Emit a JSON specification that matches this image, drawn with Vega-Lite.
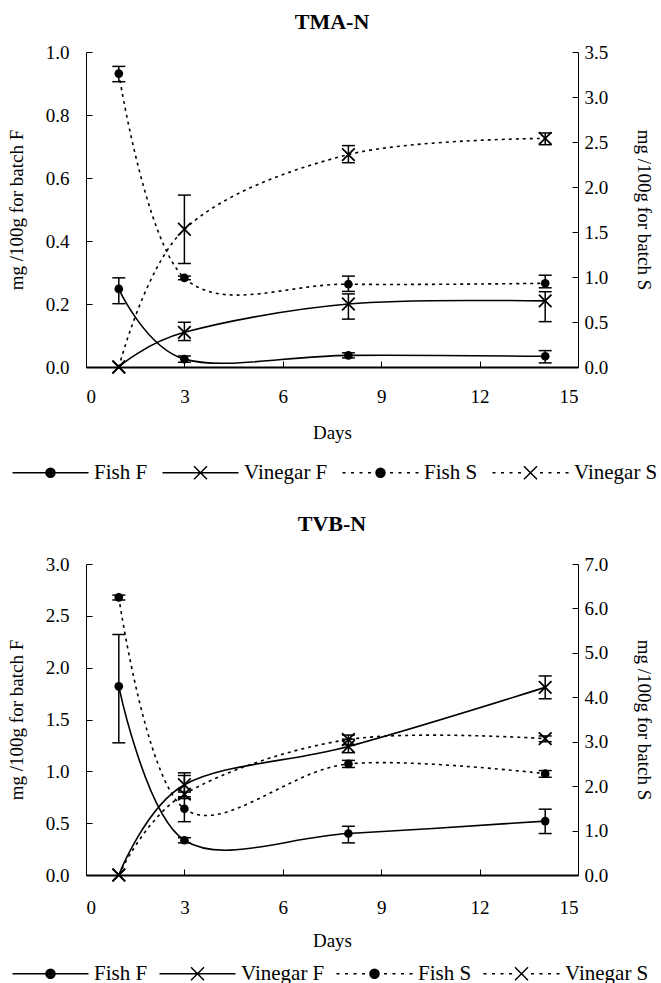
{
  "$schema": "https://vega.github.io/schema/vega-lite/v6.json",
  "background": "white",
  "padding": {"left": 7, "top": 11, "right": 0, "bottom": 0},
  "config": {
    "view": {"stroke": null},
    "font": "Liberation Serif",
    "axis": {
      "labelFont": "Liberation Serif", "labelFontSize": 19, "labelColor": "black",
      "titleFont": "Liberation Serif", "titleFontSize": 19, "titleFontWeight": "normal", "titleColor": "black",
      "domainColor": "black", "tickColor": "black", "grid": false, "tickSize": -6, "labelPadding": 23
    },
    "title": {"font": "Liberation Serif", "fontSize": 22, "fontWeight": "bold", "color": "black"},
    "legend": {
      "orient": "none", "direction": "horizontal", "columns": 4, "title": null, "padding": 0,
      "labelFont": "Liberation Serif", "labelFontSize": 21, "labelColor": "black",
      "symbolSize": 100, "symbolStrokeWidth": 1.5,
      "labelOffset": 33, "columnPadding": 11
    }
  },
  "datasets": {
    "tma": [
      {"series": "Fish F", "kind": "Fish", "batch": "F", "day": 1, "value": 0.248, "lo": 0.201, "hi": 0.283},
      {"series": "Fish F", "kind": "Fish", "batch": "F", "day": 3, "value": 0.025, "lo": 0.015, "hi": 0.035},
      {"series": "Fish F", "kind": "Fish", "batch": "F", "day": 8, "value": 0.037, "lo": 0.029, "hi": 0.045},
      {"series": "Fish F", "kind": "Fish", "batch": "F", "day": 14, "value": 0.034, "lo": 0.013, "hi": 0.052},
      {"series": "Vinegar F", "kind": "Vinegar", "batch": "F", "day": 1, "value": 0.0, "lo": null, "hi": null},
      {"series": "Vinegar F", "kind": "Vinegar", "batch": "F", "day": 3, "value": 0.11, "lo": 0.084, "hi": 0.142},
      {"series": "Vinegar F", "kind": "Vinegar", "batch": "F", "day": 8, "value": 0.2, "lo": 0.152, "hi": 0.232},
      {"series": "Vinegar F", "kind": "Vinegar", "batch": "F", "day": 14, "value": 0.21, "lo": 0.144, "hi": 0.239},
      {"series": "Fish S", "kind": "Fish", "batch": "S", "day": 1, "value": 3.26, "lo": 3.17, "hi": 3.34},
      {"series": "Fish S", "kind": "Fish", "batch": "S", "day": 3, "value": 0.99, "lo": 0.97, "hi": 1.01},
      {"series": "Fish S", "kind": "Fish", "batch": "S", "day": 8, "value": 0.92, "lo": 0.84, "hi": 1.01},
      {"series": "Fish S", "kind": "Fish", "batch": "S", "day": 14, "value": 0.93, "lo": 0.88, "hi": 1.02},
      {"series": "Vinegar S", "kind": "Vinegar", "batch": "S", "day": 1, "value": 0.0, "lo": null, "hi": null},
      {"series": "Vinegar S", "kind": "Vinegar", "batch": "S", "day": 3, "value": 1.53, "lo": 1.15, "hi": 1.91},
      {"series": "Vinegar S", "kind": "Vinegar", "batch": "S", "day": 8, "value": 2.36, "lo": 2.27, "hi": 2.46},
      {"series": "Vinegar S", "kind": "Vinegar", "batch": "S", "day": 14, "value": 2.54, "lo": 2.47, "hi": 2.6}
    ],
    "tvb": [
      {"series": "Fish F", "kind": "Fish", "batch": "F", "day": 1, "value": 1.82, "lo": 1.275, "hi": 2.32},
      {"series": "Fish F", "kind": "Fish", "batch": "F", "day": 3, "value": 0.335, "lo": 0.31, "hi": 0.36},
      {"series": "Fish F", "kind": "Fish", "batch": "F", "day": 8, "value": 0.4, "lo": 0.31, "hi": 0.47},
      {"series": "Fish F", "kind": "Fish", "batch": "F", "day": 14, "value": 0.52, "lo": 0.4, "hi": 0.635},
      {"series": "Vinegar F", "kind": "Vinegar", "batch": "F", "day": 1, "value": 0.0, "lo": null, "hi": null},
      {"series": "Vinegar F", "kind": "Vinegar", "batch": "F", "day": 3, "value": 0.87, "lo": 0.8, "hi": 0.96},
      {"series": "Vinegar F", "kind": "Vinegar", "batch": "F", "day": 8, "value": 1.24, "lo": 1.18, "hi": 1.31},
      {"series": "Vinegar F", "kind": "Vinegar", "batch": "F", "day": 14, "value": 1.81, "lo": 1.7, "hi": 1.92},
      {"series": "Fish S", "kind": "Fish", "batch": "S", "day": 1, "value": 6.25, "lo": 6.19, "hi": 6.3},
      {"series": "Fish S", "kind": "Fish", "batch": "S", "day": 3, "value": 1.49, "lo": 1.2, "hi": 1.76},
      {"series": "Fish S", "kind": "Fish", "batch": "S", "day": 8, "value": 2.5, "lo": 2.42, "hi": 2.58},
      {"series": "Fish S", "kind": "Fish", "batch": "S", "day": 14, "value": 2.28, "lo": 2.2, "hi": 2.35},
      {"series": "Vinegar S", "kind": "Vinegar", "batch": "S", "day": 1, "value": 0.0, "lo": null, "hi": null},
      {"series": "Vinegar S", "kind": "Vinegar", "batch": "S", "day": 3, "value": 1.82, "lo": 1.72, "hi": 2.3},
      {"series": "Vinegar S", "kind": "Vinegar", "batch": "S", "day": 8, "value": 3.05, "lo": 2.93, "hi": 3.15},
      {"series": "Vinegar S", "kind": "Vinegar", "batch": "S", "day": 14, "value": 3.07, "lo": 3.0, "hi": 3.13}
    ]
  },
  "vconcat": [
    {
      "title": {"text": "TMA-N", "offset": 9},
      "width": 492, "height": 315,
      "data": {"name": "tma"},
      "layer": [
        {
          "transform": [{"filter": "datum.batch == 'F'"}],
          "encoding": {"x": {"field": "day", "type": "quantitative", "scale": {"domain": [0, 15]}, "axis": {"values": [0, 3, 6, 9, 12, 15], "title": "Days", "titlePadding": 17, "labelPadding": 26, "domainWidth": 2, "labelFont": "Liberation Serif", "titleFont": "Liberation Serif"}}},
          "layer": [
            {"mark": {"type": "line", "interpolate": "cardinal", "color": "black", "strokeWidth": 1.6}, "encoding": {"y": {"field": "value", "type": "quantitative", "scale": {"domain": [0, 1]}, "axis": {"title": "mg /100g for batch F", "values": [0, 0.2, 0.4, 0.6, 0.8, 1.0], "format": ".1f", "titlePadding": 19, "labelFont": "Liberation Serif", "titleFont": "Liberation Serif"}}, "detail": {"field": "series"}}},
            {"mark": {"type": "rule", "color": "black", "strokeWidth": 1.5}, "encoding": {"y": {"field": "lo", "type": "quantitative", "scale": {"domain": [0, 1]}, "axis": {"title": "mg /100g for batch F", "values": [0, 0.2, 0.4, 0.6, 0.8, 1.0], "format": ".1f", "titlePadding": 19, "labelFont": "Liberation Serif", "titleFont": "Liberation Serif"}}, "y2": {"field": "hi"}}},
            {"mark": {"type": "tick", "orient": "horizontal", "size": 13, "thickness": 1.5, "color": "black", "opacity": 1}, "encoding": {"y": {"field": "lo", "type": "quantitative", "scale": {"domain": [0, 1]}, "axis": {"title": "mg /100g for batch F", "values": [0, 0.2, 0.4, 0.6, 0.8, 1.0], "format": ".1f", "titlePadding": 19, "labelFont": "Liberation Serif", "titleFont": "Liberation Serif"}}}},
            {"mark": {"type": "tick", "orient": "horizontal", "size": 13, "thickness": 1.5, "color": "black", "opacity": 1}, "encoding": {"y": {"field": "hi", "type": "quantitative", "scale": {"domain": [0, 1]}, "axis": {"title": "mg /100g for batch F", "values": [0, 0.2, 0.4, 0.6, 0.8, 1.0], "format": ".1f", "titlePadding": 19, "labelFont": "Liberation Serif", "titleFont": "Liberation Serif"}}}},
            {"transform": [{"filter": "datum.kind == 'Fish'"}], "mark": {"type": "point", "shape": "circle", "filled": true, "size": 75, "color": "black", "opacity": 1}, "encoding": {"y": {"field": "value", "type": "quantitative", "scale": {"domain": [0, 1]}, "axis": {"title": "mg /100g for batch F", "values": [0, 0.2, 0.4, 0.6, 0.8, 1.0], "format": ".1f", "titlePadding": 19, "labelFont": "Liberation Serif", "titleFont": "Liberation Serif"}}}},
            {"transform": [{"filter": "datum.kind == 'Vinegar'"}], "mark": {"type": "point", "shape": "M-1,-1L1,1M-1,1L1,-1", "filled": false, "size": 160, "color": "black", "strokeWidth": 1.8, "opacity": 1}, "encoding": {"y": {"field": "value", "type": "quantitative", "scale": {"domain": [0, 1]}, "axis": {"title": "mg /100g for batch F", "values": [0, 0.2, 0.4, 0.6, 0.8, 1.0], "format": ".1f", "titlePadding": 19, "labelFont": "Liberation Serif", "titleFont": "Liberation Serif"}}}},
            {"mark": {"type": "point", "filled": false, "color": "black", "strokeWidth": 1.5, "opacity": 0}, "encoding": {
              "y": {"field": "value", "type": "quantitative", "scale": {"domain": [0, 1]}, "axis": {"title": "mg /100g for batch F", "values": [0, 0.2, 0.4, 0.6, 0.8, 1.0], "format": ".1f", "titlePadding": 19, "labelFont": "Liberation Serif", "titleFont": "Liberation Serif"}},
              "shape": {"field": "series", "type": "nominal",
                "scale": {"domain": ["Fish F", "Vinegar F", "Fish S", "Vinegar S"], "range": [
                  "M-7.6,0H7.6M-0.9,0A0.9,0.9,0,1,0,0.9,0A0.9,0.9,0,1,0,-0.9,0M-0.6,0A0.6,0.6,0,1,0,0.6,0A0.6,0.6,0,1,0,-0.6,0M-0.3,0A0.3,0.3,0,1,0,0.3,0A0.3,0.3,0,1,0,-0.3,0M-0.12,0A0.12,0.12,0,1,0,0.12,0A0.12,0.12,0,1,0,-0.12,0",
                  "M-7.6,0H7.6M-1.3,-1.3L1.3,1.3M-1.3,1.3L1.3,-1.3",
                  "M-7.6,0H-7.0M-5.9,0H-5.3M-4.2,0H-3.6M-2.5,0H-1.9M1.9,0H2.5M3.6,0H4.2M5.3,0H5.9M7.0,0H7.6M-0.9,0A0.9,0.9,0,1,0,0.9,0A0.9,0.9,0,1,0,-0.9,0M-0.6,0A0.6,0.6,0,1,0,0.6,0A0.6,0.6,0,1,0,-0.6,0M-0.3,0A0.3,0.3,0,1,0,0.3,0A0.3,0.3,0,1,0,-0.3,0M-0.12,0A0.12,0.12,0,1,0,0.12,0A0.12,0.12,0,1,0,-0.12,0",
                  "M-7.6,0H-7.0M-5.9,0H-5.3M-4.2,0H-3.6M-2.5,0H-1.9M1.9,0H2.5M3.6,0H4.2M5.3,0H5.9M7.0,0H7.6M-1.3,-1.3L1.3,1.3M-1.3,1.3L1.3,-1.3"
                ]},
                "legend": {"legendX": -46, "legendY": 410, "labelFont": "Liberation Serif"}
              }
            }}
          ]
        },
        {
          "transform": [{"filter": "datum.batch == 'S'"}],
          "encoding": {"x": {"field": "day", "type": "quantitative", "scale": {"domain": [0, 15]}, "axis": {"values": [0, 3, 6, 9, 12, 15], "title": "Days", "titlePadding": 17, "labelPadding": 26, "domainWidth": 2, "labelFont": "Liberation Serif", "titleFont": "Liberation Serif"}}},
          "layer": [
            {"mark": {"type": "line", "interpolate": "cardinal", "color": "black", "strokeWidth": 1.6, "strokeDash": [3, 4]}, "encoding": {"y": {"field": "value", "type": "quantitative", "scale": {"domain": [0, 3.5]}, "axis": {"orient": "right", "title": "mg /100g for batch S", "values": [0, 0.5, 1, 1.5, 2, 2.5, 3, 3.5], "format": ".1f", "labelPadding": 12, "titlePadding": 26, "labelFont": "Liberation Serif", "titleFont": "Liberation Serif"}}, "detail": {"field": "series"}}},
            {"mark": {"type": "rule", "color": "black", "strokeWidth": 1.5}, "encoding": {"y": {"field": "lo", "type": "quantitative", "scale": {"domain": [0, 3.5]}, "axis": {"orient": "right", "title": "mg /100g for batch S", "values": [0, 0.5, 1, 1.5, 2, 2.5, 3, 3.5], "format": ".1f", "labelPadding": 12, "titlePadding": 26, "labelFont": "Liberation Serif", "titleFont": "Liberation Serif"}}, "y2": {"field": "hi"}}},
            {"mark": {"type": "tick", "orient": "horizontal", "size": 13, "thickness": 1.5, "color": "black", "opacity": 1}, "encoding": {"y": {"field": "lo", "type": "quantitative", "scale": {"domain": [0, 3.5]}, "axis": {"orient": "right", "title": "mg /100g for batch S", "values": [0, 0.5, 1, 1.5, 2, 2.5, 3, 3.5], "format": ".1f", "labelPadding": 12, "titlePadding": 26, "labelFont": "Liberation Serif", "titleFont": "Liberation Serif"}}}},
            {"mark": {"type": "tick", "orient": "horizontal", "size": 13, "thickness": 1.5, "color": "black", "opacity": 1}, "encoding": {"y": {"field": "hi", "type": "quantitative", "scale": {"domain": [0, 3.5]}, "axis": {"orient": "right", "title": "mg /100g for batch S", "values": [0, 0.5, 1, 1.5, 2, 2.5, 3, 3.5], "format": ".1f", "labelPadding": 12, "titlePadding": 26, "labelFont": "Liberation Serif", "titleFont": "Liberation Serif"}}}},
            {"transform": [{"filter": "datum.kind == 'Fish'"}], "mark": {"type": "point", "shape": "circle", "filled": true, "size": 75, "color": "black", "opacity": 1}, "encoding": {"y": {"field": "value", "type": "quantitative", "scale": {"domain": [0, 3.5]}, "axis": {"orient": "right", "title": "mg /100g for batch S", "values": [0, 0.5, 1, 1.5, 2, 2.5, 3, 3.5], "format": ".1f", "labelPadding": 12, "titlePadding": 26, "labelFont": "Liberation Serif", "titleFont": "Liberation Serif"}}}},
            {"transform": [{"filter": "datum.kind == 'Vinegar'"}], "mark": {"type": "point", "shape": "M-1,-1L1,1M-1,1L1,-1", "filled": false, "size": 160, "color": "black", "strokeWidth": 1.8, "opacity": 1}, "encoding": {"y": {"field": "value", "type": "quantitative", "scale": {"domain": [0, 3.5]}, "axis": {"orient": "right", "title": "mg /100g for batch S", "values": [0, 0.5, 1, 1.5, 2, 2.5, 3, 3.5], "format": ".1f", "labelPadding": 12, "titlePadding": 26, "labelFont": "Liberation Serif", "titleFont": "Liberation Serif"}}}}
          ]
        }
      ],
      "resolve": {"scale": {"y": "independent"}}
    },
    {
      "title": {"text": "TVB-N", "offset": 19},
      "width": 492, "height": 311,
      "data": {"name": "tvb"},
      "layer": [
        {
          "transform": [{"filter": "datum.batch == 'F'"}],
          "encoding": {"x": {"field": "day", "type": "quantitative", "scale": {"domain": [0, 15]}, "axis": {"values": [0, 3, 6, 9, 12, 15], "title": "Days", "titlePadding": 14, "labelPadding": 29, "domainWidth": 2, "labelFont": "Liberation Serif", "titleFont": "Liberation Serif"}}},
          "layer": [
            {"mark": {"type": "line", "interpolate": "cardinal", "color": "black", "strokeWidth": 1.6}, "encoding": {"y": {"field": "value", "type": "quantitative", "scale": {"domain": [0, 3]}, "axis": {"title": "mg /100g for batch F", "values": [0, 0.5, 1, 1.5, 2, 2.5, 3], "format": ".1f", "titlePadding": 19, "labelFont": "Liberation Serif", "titleFont": "Liberation Serif"}}, "detail": {"field": "series"}}},
            {"mark": {"type": "rule", "color": "black", "strokeWidth": 1.5}, "encoding": {"y": {"field": "lo", "type": "quantitative", "scale": {"domain": [0, 3]}, "axis": {"title": "mg /100g for batch F", "values": [0, 0.5, 1, 1.5, 2, 2.5, 3], "format": ".1f", "titlePadding": 19, "labelFont": "Liberation Serif", "titleFont": "Liberation Serif"}}, "y2": {"field": "hi"}}},
            {"mark": {"type": "tick", "orient": "horizontal", "size": 13, "thickness": 1.5, "color": "black", "opacity": 1}, "encoding": {"y": {"field": "lo", "type": "quantitative", "scale": {"domain": [0, 3]}, "axis": {"title": "mg /100g for batch F", "values": [0, 0.5, 1, 1.5, 2, 2.5, 3], "format": ".1f", "titlePadding": 19, "labelFont": "Liberation Serif", "titleFont": "Liberation Serif"}}}},
            {"mark": {"type": "tick", "orient": "horizontal", "size": 13, "thickness": 1.5, "color": "black", "opacity": 1}, "encoding": {"y": {"field": "hi", "type": "quantitative", "scale": {"domain": [0, 3]}, "axis": {"title": "mg /100g for batch F", "values": [0, 0.5, 1, 1.5, 2, 2.5, 3], "format": ".1f", "titlePadding": 19, "labelFont": "Liberation Serif", "titleFont": "Liberation Serif"}}}},
            {"transform": [{"filter": "datum.kind == 'Fish'"}], "mark": {"type": "point", "shape": "circle", "filled": true, "size": 75, "color": "black", "opacity": 1}, "encoding": {"y": {"field": "value", "type": "quantitative", "scale": {"domain": [0, 3]}, "axis": {"title": "mg /100g for batch F", "values": [0, 0.5, 1, 1.5, 2, 2.5, 3], "format": ".1f", "titlePadding": 19, "labelFont": "Liberation Serif", "titleFont": "Liberation Serif"}}}},
            {"transform": [{"filter": "datum.kind == 'Vinegar'"}], "mark": {"type": "point", "shape": "M-1,-1L1,1M-1,1L1,-1", "filled": false, "size": 160, "color": "black", "strokeWidth": 1.8, "opacity": 1}, "encoding": {"y": {"field": "value", "type": "quantitative", "scale": {"domain": [0, 3]}, "axis": {"title": "mg /100g for batch F", "values": [0, 0.5, 1, 1.5, 2, 2.5, 3], "format": ".1f", "titlePadding": 19, "labelFont": "Liberation Serif", "titleFont": "Liberation Serif"}}}},
            {"mark": {"type": "point", "filled": false, "color": "black", "strokeWidth": 1.5, "opacity": 0}, "encoding": {
              "y": {"field": "value", "type": "quantitative", "scale": {"domain": [0, 3]}, "axis": {"title": "mg /100g for batch F", "values": [0, 0.5, 1, 1.5, 2, 2.5, 3], "format": ".1f", "titlePadding": 19, "labelFont": "Liberation Serif", "titleFont": "Liberation Serif"}},
              "shape": {"field": "series", "type": "nominal",
                "scale": {"domain": ["Fish F", "Vinegar F", "Fish S", "Vinegar S"], "range": [
                  "M-7.6,0H7.6M-0.9,0A0.9,0.9,0,1,0,0.9,0A0.9,0.9,0,1,0,-0.9,0M-0.6,0A0.6,0.6,0,1,0,0.6,0A0.6,0.6,0,1,0,-0.6,0M-0.3,0A0.3,0.3,0,1,0,0.3,0A0.3,0.3,0,1,0,-0.3,0M-0.12,0A0.12,0.12,0,1,0,0.12,0A0.12,0.12,0,1,0,-0.12,0",
                  "M-7.6,0H7.6M-1.3,-1.3L1.3,1.3M-1.3,1.3L1.3,-1.3",
                  "M-7.6,0H-7.0M-5.9,0H-5.3M-4.2,0H-3.6M-2.5,0H-1.9M1.9,0H2.5M3.6,0H4.2M5.3,0H5.9M7.0,0H7.6M-0.9,0A0.9,0.9,0,1,0,0.9,0A0.9,0.9,0,1,0,-0.9,0M-0.6,0A0.6,0.6,0,1,0,0.6,0A0.6,0.6,0,1,0,-0.6,0M-0.3,0A0.3,0.3,0,1,0,0.3,0A0.3,0.3,0,1,0,-0.3,0M-0.12,0A0.12,0.12,0,1,0,0.12,0A0.12,0.12,0,1,0,-0.12,0",
                  "M-7.6,0H-7.0M-5.9,0H-5.3M-4.2,0H-3.6M-2.5,0H-1.9M1.9,0H2.5M3.6,0H4.2M5.3,0H5.9M7.0,0H7.6M-1.3,-1.3L1.3,1.3M-1.3,1.3L1.3,-1.3"
                ]},
                "legend": {"legendX": -46, "legendY": 399, "columnPadding": 8, "labelFont": "Liberation Serif"}
              }
            }}
          ]
        },
        {
          "transform": [{"filter": "datum.batch == 'S'"}],
          "encoding": {"x": {"field": "day", "type": "quantitative", "scale": {"domain": [0, 15]}, "axis": {"values": [0, 3, 6, 9, 12, 15], "title": "Days", "titlePadding": 14, "labelPadding": 29, "domainWidth": 2, "labelFont": "Liberation Serif", "titleFont": "Liberation Serif"}}},
          "layer": [
            {"mark": {"type": "line", "interpolate": "cardinal", "color": "black", "strokeWidth": 1.6, "strokeDash": [3, 4]}, "encoding": {"y": {"field": "value", "type": "quantitative", "scale": {"domain": [0, 7]}, "axis": {"orient": "right", "title": "mg /100g for batch S", "values": [0, 1, 2, 3, 4, 5, 6, 7], "format": ".1f", "labelPadding": 12, "titlePadding": 26, "labelFont": "Liberation Serif", "titleFont": "Liberation Serif"}}, "detail": {"field": "series"}}},
            {"mark": {"type": "rule", "color": "black", "strokeWidth": 1.5}, "encoding": {"y": {"field": "lo", "type": "quantitative", "scale": {"domain": [0, 7]}, "axis": {"orient": "right", "title": "mg /100g for batch S", "values": [0, 1, 2, 3, 4, 5, 6, 7], "format": ".1f", "labelPadding": 12, "titlePadding": 26, "labelFont": "Liberation Serif", "titleFont": "Liberation Serif"}}, "y2": {"field": "hi"}}},
            {"mark": {"type": "tick", "orient": "horizontal", "size": 13, "thickness": 1.5, "color": "black", "opacity": 1}, "encoding": {"y": {"field": "lo", "type": "quantitative", "scale": {"domain": [0, 7]}, "axis": {"orient": "right", "title": "mg /100g for batch S", "values": [0, 1, 2, 3, 4, 5, 6, 7], "format": ".1f", "labelPadding": 12, "titlePadding": 26, "labelFont": "Liberation Serif", "titleFont": "Liberation Serif"}}}},
            {"mark": {"type": "tick", "orient": "horizontal", "size": 13, "thickness": 1.5, "color": "black", "opacity": 1}, "encoding": {"y": {"field": "hi", "type": "quantitative", "scale": {"domain": [0, 7]}, "axis": {"orient": "right", "title": "mg /100g for batch S", "values": [0, 1, 2, 3, 4, 5, 6, 7], "format": ".1f", "labelPadding": 12, "titlePadding": 26, "labelFont": "Liberation Serif", "titleFont": "Liberation Serif"}}}},
            {"transform": [{"filter": "datum.kind == 'Fish'"}], "mark": {"type": "point", "shape": "circle", "filled": true, "size": 75, "color": "black", "opacity": 1}, "encoding": {"y": {"field": "value", "type": "quantitative", "scale": {"domain": [0, 7]}, "axis": {"orient": "right", "title": "mg /100g for batch S", "values": [0, 1, 2, 3, 4, 5, 6, 7], "format": ".1f", "labelPadding": 12, "titlePadding": 26, "labelFont": "Liberation Serif", "titleFont": "Liberation Serif"}}}},
            {"transform": [{"filter": "datum.kind == 'Vinegar'"}], "mark": {"type": "point", "shape": "M-1,-1L1,1M-1,1L1,-1", "filled": false, "size": 160, "color": "black", "strokeWidth": 1.8, "opacity": 1}, "encoding": {"y": {"field": "value", "type": "quantitative", "scale": {"domain": [0, 7]}, "axis": {"orient": "right", "title": "mg /100g for batch S", "values": [0, 1, 2, 3, 4, 5, 6, 7], "format": ".1f", "labelPadding": 12, "titlePadding": 26, "labelFont": "Liberation Serif", "titleFont": "Liberation Serif"}}}}
          ]
        }
      ],
      "resolve": {"scale": {"y": "independent"}}
    }
  ],
  "spacing": 30,
  "resolve": {"scale": {"shape": "independent", "x": "independent", "y": "independent"}, "legend": {"shape": "independent"}}
}
